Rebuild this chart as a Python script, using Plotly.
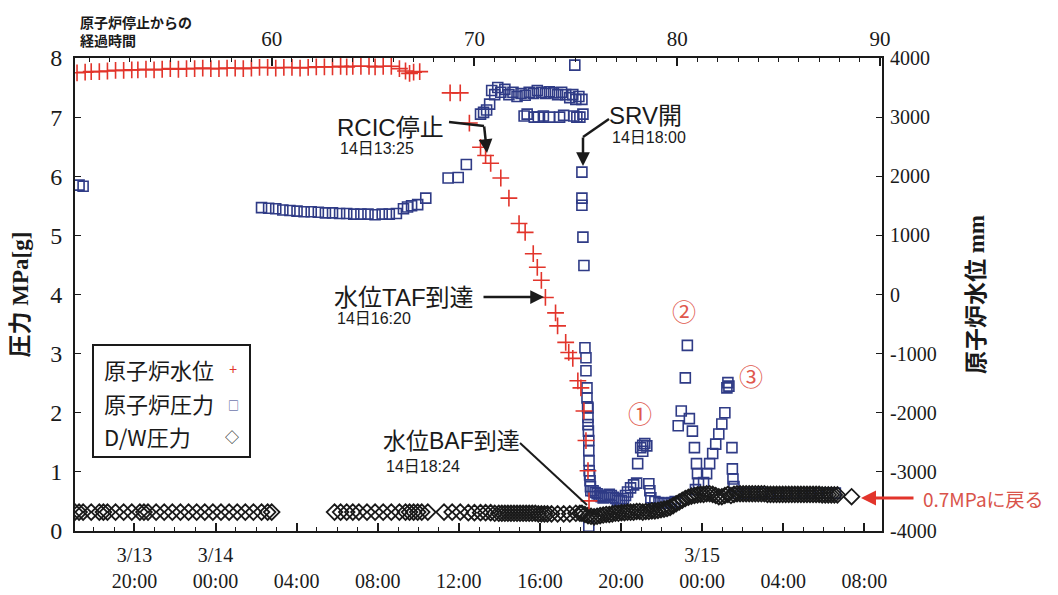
import plotly.graph_objects as go

# ---------------- data (hours after reactor shutdown) ----------------
level_t = [50.4, 50.8, 51.1, 51.5, 51.9, 52.3, 52.7, 53.1, 53.4, 53.8,
           54.2, 54.6, 55.0, 55.4, 55.8, 56.2, 56.6, 57.0, 57.4, 57.8,
           58.2, 58.6, 59.0, 59.4, 59.8, 60.2, 60.6, 61.0, 61.4, 61.8,
           62.2, 62.6, 63.0, 63.4, 63.7, 64.0, 64.4, 64.8, 65.1, 65.5,
           65.9, 66.3, 66.6, 66.8, 67.0, 67.3,
           68.8, 69.3, 69.75, 70.3, 70.55, 70.8, 71.3, 71.7, 72.2, 72.5,
           72.9, 73.1, 73.3, 73.5, 74.0, 74.1, 74.5, 74.65, 74.85, 75.1,
           75.25, 75.4, 75.5, 75.6, 75.65]
level_mm = [3750, 3760, 3770, 3770, 3780, 3790, 3790, 3800, 3800, 3810,
            3800, 3810, 3820, 3810, 3820, 3820, 3830, 3820, 3820, 3830,
            3830, 3820, 3830, 3840, 3840, 3830, 3840, 3840, 3830, 3840,
            3850, 3850, 3850, 3860, 3850, 3860, 3860, 3860, 3850, 3860,
            3860, 3820, 3780, 3740, 3760, 3770,
            3410, 3410, 2900, 2490, 2350, 2220, 1970, 1630, 1200, 1050,
            690, 460, 240, -50, -310, -530, -810, -980, -1080, -1460,
            -1580, -1970, -2470, -2980, -3490]

rpv_t = [50.5, 50.7,
         59.5, 59.85, 60.2, 60.55, 60.9, 61.25, 61.6, 61.95, 62.3, 62.65,
         63.0, 63.35, 63.7, 64.05, 64.4, 64.75, 65.1, 65.45, 65.8, 66.15,
         66.5, 66.7, 66.9, 67.2, 67.6,
         68.7, 69.2, 69.6,
         70.3, 70.45, 70.6, 70.75, 70.85, 71.0, 71.15, 71.3, 71.5, 71.7,
         71.9, 72.1, 72.3, 72.5, 72.7, 72.9, 73.1, 73.3, 73.5, 73.7,
         73.9, 74.1, 74.3, 74.5, 74.7, 74.85, 75.0, 75.15, 75.3,
         72.45, 72.6, 72.95, 73.15, 73.4, 73.7, 74.2, 74.4, 74.9, 75.05,
         75.2, 75.35,
         74.95,
         75.3, 75.3, 75.3, 75.35, 75.4, 75.45, 75.5, 75.5, 75.55, 75.55,
         75.6, 75.6, 75.62, 75.64, 75.64, 75.65, 75.66, 75.7, 75.74, 75.64,
         75.68, 75.72, 75.6, 75.58,
         75.85, 75.95, 76.05, 76.15, 76.25, 76.35, 76.45, 76.55, 76.65, 76.75,
         76.85, 76.95, 77.05, 77.15, 77.25, 77.35, 77.45, 77.55, 77.7, 77.85,
         78.0,
         78.05, 78.2, 78.3, 78.4, 78.5, 78.3, 78.6, 78.65, 78.7,
         78.9, 79.1, 79.3, 79.5, 79.7, 79.9,
         80.05, 80.2, 80.4, 80.5, 80.6, 80.75, 80.85, 80.95, 81.0, 81.05, 80.9,
         81.3, 81.45, 81.6, 81.75, 81.9, 82.05, 82.2, 82.35, 82.45, 82.5,
         82.55, 82.7, 82.72, 82.75, 82.8,
         83.0, 83.4, 83.8, 84.2, 84.6, 85.0, 85.4, 85.8, 86.2, 86.6,
         87.0, 87.4, 87.8]
rpv_mpa = [5.85, 5.83,
           5.47, 5.46, 5.45, 5.43, 5.42, 5.41, 5.40, 5.40, 5.39, 5.38,
           5.38, 5.37, 5.37, 5.36, 5.36, 5.36, 5.35, 5.36, 5.36, 5.37,
           5.45, 5.48, 5.50, 5.52, 5.63,
           5.97, 5.98, 6.20,
           7.05, 7.08, 7.12, 7.22, 7.45, 7.38, 7.50, 7.42, 7.47, 7.38,
           7.42, 7.35, 7.40, 7.37, 7.42, 7.40, 7.45, 7.42, 7.40, 7.43,
           7.41, 7.38, 7.42, 7.38, 7.33, 7.38, 7.30, 7.35, 7.30,
           7.02, 7.05, 7.00, 7.00, 7.02, 7.00, 7.00, 7.03, 7.02, 7.00,
           7.00, 7.05,
           7.88,
           6.07, 5.63, 5.51, 4.97, 4.49, 3.10, 2.93, 2.71, 2.42, 2.25,
           2.08, 1.92, 1.69, 1.53, 1.36, 1.19, 1.02, 0.85, 0.68, 0.08,
           0.95, 0.75, 1.80, 2.10,
           0.68, 0.65, 0.63, 0.60, 0.58, 0.56, 0.57, 0.60, 0.62, 0.60,
           0.57, 0.55, 0.52, 0.51, 0.52, 0.55, 0.60, 0.66, 0.73, 0.78,
           0.81,
           1.14, 1.41, 1.45, 1.48, 1.44, 1.35, 0.80, 0.68, 0.56,
           0.50, 0.48, 0.47, 0.47, 0.48, 0.50,
           1.78, 2.03, 2.59, 3.14, 1.90, 1.69, 1.41, 1.14, 0.97, 0.81, 0.70,
           0.82, 0.97, 1.14, 1.31, 1.47, 1.64, 1.81, 2.00, 2.42, 2.51,
           2.45, 1.41, 1.05, 0.88, 0.75,
           0.64, 0.64, 0.64, 0.64, 0.64, 0.64, 0.64, 0.64, 0.64, 0.64,
           0.64, 0.64, 0.64]

dw_t = [50.3, 50.5, 50.7, 51.1, 51.5, 51.7, 51.9, 52.3, 52.7, 53.1,
        53.5, 53.7, 53.9, 54.3, 54.7, 55.1, 55.5, 55.9, 56.3, 56.7,
        57.1, 57.5, 57.9, 58.3, 58.7, 59.1, 59.5, 59.8, 60.0,
        63.1, 63.4, 63.7, 64.0, 64.3, 64.7, 65.1, 65.5, 65.9, 66.3,
        66.6, 66.8, 67.0, 67.2, 67.4, 67.7,
        68.5, 68.9, 69.3, 69.7, 70.0, 70.3, 70.55, 70.8, 71.0, 71.2,
        71.35, 71.5, 71.65, 71.8, 71.95, 72.1, 72.25, 72.4, 72.55, 72.7,
        72.85, 73.0, 73.15, 73.3, 73.45, 73.6, 73.8, 74.1, 74.4, 74.7,
        75.0, 75.2,
        75.3, 75.45, 75.6, 75.75, 75.9, 76.05, 76.2, 76.35, 76.5, 76.65,
        76.8, 76.95, 77.1, 77.25, 77.4, 77.55, 77.7, 77.85, 78.0, 78.15,
        78.3, 78.45, 78.6, 78.75, 78.9, 79.05, 79.2, 79.35, 79.5, 79.65,
        79.8, 79.95, 80.1, 80.25, 80.4, 80.55, 80.7, 80.85,
        81.0, 81.15, 81.3, 81.45, 81.6, 81.75, 81.9, 82.05, 82.2, 82.35,
        82.5, 82.65, 82.8, 82.95, 83.1, 83.25, 83.4, 83.55, 83.7, 83.85,
        84.0, 84.15, 84.3, 84.45, 84.6, 84.75, 84.9, 85.05, 85.2, 85.35,
        85.5, 85.65, 85.8, 85.95, 86.1, 86.25, 86.4, 86.55, 86.7, 86.85,
        87.0, 87.15, 87.3, 87.45, 87.6, 87.75, 87.9,
        88.6]
dw_mpa = [0.32, 0.32, 0.32, 0.32, 0.32, 0.32, 0.32, 0.32, 0.32, 0.32,
          0.32, 0.32, 0.32, 0.32, 0.32, 0.32, 0.32, 0.32, 0.32, 0.32,
          0.32, 0.32, 0.32, 0.32, 0.32, 0.32, 0.32, 0.32, 0.32,
          0.32, 0.32, 0.32, 0.32, 0.32, 0.32, 0.32, 0.32, 0.32, 0.32,
          0.32, 0.32, 0.32, 0.32, 0.32, 0.32,
          0.32, 0.32, 0.32, 0.31, 0.31, 0.31, 0.31, 0.31, 0.30, 0.30,
          0.30, 0.30, 0.30, 0.30, 0.30, 0.30, 0.30, 0.30, 0.30, 0.30,
          0.30, 0.30, 0.29, 0.29, 0.29, 0.29, 0.29, 0.29, 0.29, 0.29,
          0.30, 0.30,
          0.30, 0.28, 0.26, 0.25, 0.24, 0.25, 0.26, 0.27, 0.28, 0.28,
          0.29, 0.30, 0.30, 0.31, 0.31, 0.32, 0.32, 0.32, 0.33, 0.33,
          0.32, 0.33, 0.33, 0.34, 0.34, 0.35, 0.36, 0.37, 0.38, 0.40,
          0.43, 0.46, 0.49, 0.52, 0.55, 0.57, 0.59, 0.60,
          0.61, 0.62, 0.62, 0.63, 0.63, 0.62, 0.60, 0.58, 0.58, 0.60,
          0.62, 0.60, 0.62, 0.63, 0.63, 0.63, 0.63, 0.63, 0.63, 0.63,
          0.63, 0.63, 0.63, 0.62, 0.62, 0.62, 0.62, 0.62, 0.62, 0.62,
          0.62, 0.62, 0.62, 0.62, 0.62, 0.62, 0.62, 0.62, 0.62, 0.62,
          0.62, 0.61, 0.61, 0.61, 0.61, 0.61, 0.61,
          0.58]

top_ticks = [60, 70, 80, 90]
bottom_tickvals = [53.23, 57.23, 61.23, 65.23, 69.23, 73.23, 77.23, 81.23, 85.23, 89.23]
bottom_ticktext = ["3/13<br>20:00", "3/14<br>00:00", " <br>04:00", " <br>08:00",
                   " <br>12:00", " <br>16:00", " <br>20:00", "3/15<br>00:00",
                   " <br>04:00", " <br>08:00"]
left_ticks = [0, 1, 2, 3, 4, 5, 6, 7, 8]
right_ticks = [-4000, -3000, -2000, -1000, 0, 1000, 2000, 3000, 4000]

# ---------------- layout helpers ----------------
# the page body has an 8px margin, so the figure is drawn at (8, 8)
OFF = 8
W, H = 1058 - OFF, 595 - OFF
L, R, T, B = 75, 882, 58, 531   # plot-area edges in window pixels


def px(x):
    return (x - L) / (R - L)


def py(y):
    return (B - y) / (B - T)


SERIF = "Liberation Serif, Noto Sans CJK JP, serif"
SANS = "Liberation Sans, Noto Sans CJK JP, sans-serif"
CJK = "Noto Sans CJK JP, sans-serif"
RED = "#e2342b"
NAVY = "#2f3b86"
INK = "#1a1a1a"

fig = go.Figure()
fig.add_trace(go.Scatter(
    x=level_t, y=level_mm, xaxis="x2", yaxis="y2", mode="markers", name="原子炉水位",
    marker=dict(symbol="cross-thin", size=12, line=dict(color=RED, width=1.6)),
    showlegend=False))
fig.add_trace(go.Scatter(
    x=rpv_t, y=rpv_mpa, mode="markers", name="原子炉圧力",
    marker=dict(symbol="square-open", size=10, color=NAVY, line=dict(width=1.6)),
    showlegend=False))
fig.add_trace(go.Scatter(
    x=dw_t, y=dw_mpa, mode="markers", name="D/W圧力",
    marker=dict(symbol="diamond-open", size=12, color=INK, line=dict(width=1.8)),
    showlegend=False))

xr = [50.3, 90.1]
fig.update_layout(
    width=W, height=H, autosize=False,
    margin=dict(l=L - OFF, r=(W + OFF) - R, t=T - OFF, b=(H + OFF) - B, autoexpand=False),
    paper_bgcolor="white", plot_bgcolor="white",
    xaxis=dict(range=xr, tickmode="array", tickvals=bottom_tickvals, ticktext=bottom_ticktext,
               automargin=False,
               ticks="inside", ticklen=8, tickwidth=1.5, tickcolor=INK,
               showline=True, linewidth=2, linecolor=INK, showgrid=False, zeroline=False,
               minor=dict(tickmode="linear", tick0=53.23, dtick=1, ticks="inside",
                          ticklen=4, tickwidth=1.2, tickcolor=INK),
               tickfont=dict(family=SERIF, size=20, color=INK), ticklabelstandoff=5),
    xaxis2=dict(range=xr, overlaying="x", side="top", anchor="y2", automargin=False,
                tickmode="array", tickvals=top_ticks,
                ticks="inside", ticklen=8, tickwidth=1.5, tickcolor=INK,
                showline=True, linewidth=2, linecolor=INK, showgrid=False, zeroline=False,
                minor=dict(tickmode="linear", tick0=60, dtick=1, ticks="inside",
                           ticklen=4, tickwidth=1.2, tickcolor=INK),
                tickfont=dict(family=SERIF, size=21, color=INK), ticklabelstandoff=2),
    yaxis=dict(range=[0, 8], tickmode="array", tickvals=left_ticks, automargin=False,
               ticks="inside", ticklen=6, tickwidth=1.2, tickcolor=INK,
               showline=True, linewidth=2, linecolor=INK, showgrid=False, zeroline=False,
               tickfont=dict(family=SERIF, size=24, color=INK), ticklabelstandoff=6,
               title=dict(text="<b>圧力 MPa[g]</b>", font=dict(family=SERIF, size=23, color=INK),
                          standoff=18)),
    yaxis2=dict(range=[-4000, 4000], overlaying="y", side="right", anchor="x2",
                automargin=False,
                tickmode="array", tickvals=right_ticks, ticktext=[str(v) for v in right_ticks],
                ticks="inside", ticklen=6, tickwidth=1.2, tickcolor=INK,
                showline=True, linewidth=2, linecolor=INK, showgrid=False, zeroline=False,
                tickfont=dict(family=SERIF, size=20, color=INK), ticklabelstandoff=2,
                title=dict(text="<b>原子炉水位 mm</b>", font=dict(family=SERIF, size=23, color=INK),
                           standoff=32)),
)

ann = []
shapes = []


def text(x, y, s, size, color=INK, family=SANS, xanchor="left", yanchor="middle"):
    ann.append(dict(x=px(x), y=py(y), xref="paper", yref="paper", text=s, showarrow=False,
                    xanchor=xanchor, yanchor=yanchor, align="left",
                    font=dict(family=family, size=size, color=color)))


def seg(x0, y0, x1, y1, color=INK, width=2.5):
    shapes.append(dict(type="line", xref="paper", yref="paper",
                       x0=px(x0), y0=py(y0), x1=px(x1), y1=py(y1),
                       line=dict(color=color, width=width)))


def arrow(tail, tip, color=INK, width=2.5, head=2, size=1.1):
    ann.append(dict(x=px(tip[0]), y=py(tip[1]), xref="paper", yref="paper", text="",
                    showarrow=True, axref="pixel", ayref="pixel",
                    ax=tail[0] - tip[0], ay=tail[1] - tip[1],
                    arrowhead=head, arrowsize=size, arrowwidth=width, arrowcolor=color))


# top-left caption
text(78, 31, "<b>原子炉停止からの<br>経過時間</b>", 14, family=CJK)

# event annotations
text(335, 127, "RCIC停止", 24)
text(338, 148, "14日13:25", 16)
seg(449, 122, 484, 126)
arrow((484, 125), (487, 153))

text(607, 115, "SRV開", 24)
text(610, 137, "14日18:00", 16)
seg(609, 119, 583, 137)
arrow((583, 136), (583, 166))

text(332, 297, "水位TAF到達", 24)
text(335, 318, "14日16:20", 16)
arrow((482, 297), (544, 297))

text(381, 441, "水位BAF到達", 23)
text(384, 466, "14日18:24", 16)
seg(520, 443, 587, 505, width=2)

# circled markers
text(640, 412, "①", 24, color="#e0584d", family=CJK, xanchor="center")
text(684, 310, "②", 24, color="#e0584d", family=CJK, xanchor="center")
text(751, 375, "③", 24, color="#e0584d", family=CJK, xanchor="center")

# red pointer
arrow((915, 498), (861, 498), color=RED, width=3, head=2, size=1.0)
text(921, 498, "0.7MPaに戻る", 19, color="#d9534a", family=CJK)

# manual legend (markers drawn to the right of labels, as in the reference)
shapes.append(dict(type="rect", xref="paper", yref="paper",
                   x0=px(93), x1=px(250), y0=py(457), y1=py(345),
                   line=dict(color=INK, width=2), fillcolor="white", layer="above"))
text(102, 369, "原子炉水位", 22, family=CJK)
text(102, 403, "原子炉圧力", 22, family=CJK)
text(102, 436, "D/W圧力", 22, family=CJK)
text(233, 369, "+", 14, color=RED, family=SANS, xanchor="center")
text(233, 405, "□", 11, color=NAVY, family=CJK, xanchor="center")
text(232, 436, "◇", 14, color=INK, family=CJK, xanchor="center")

fig.update_layout(annotations=ann, shapes=shapes)
fig.write_html("out.html")
